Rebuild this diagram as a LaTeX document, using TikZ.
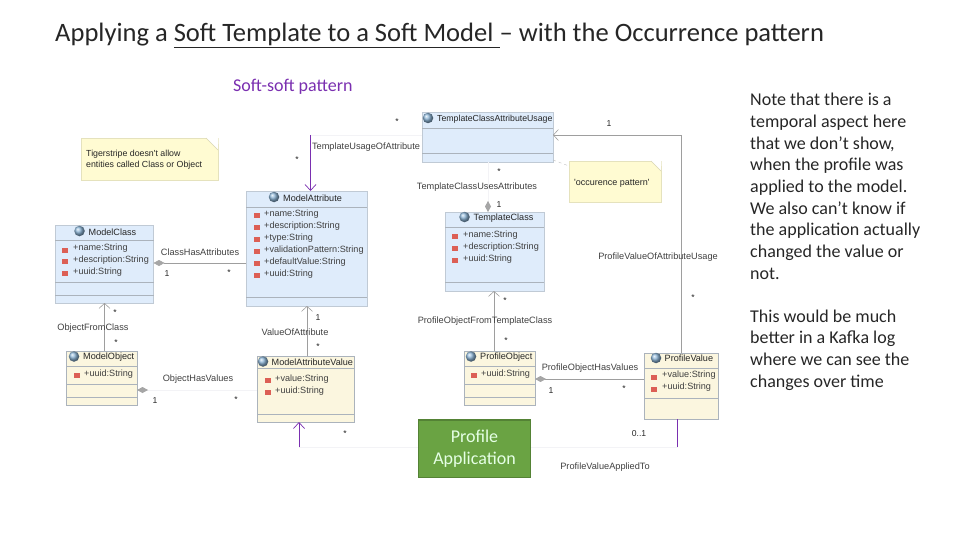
\documentclass[tikz,border=0pt]{standalone}
\usepackage{xcolor}
\usepackage{fontspec}
\setmainfont{Carlito}
\newfontfamily\umlfont{Liberation Sans}
\usetikzlibrary{arrows.meta}
\definecolor{bluebox}{HTML}{DFECFB}
\definecolor{yellowbox}{HTML}{FBF6DF}
\definecolor{notefill}{HTML}{FFFBD2}
\definecolor{boxline}{HTML}{ABB3BC}
\definecolor{faintline}{HTML}{F3F3F6}
\definecolor{softpurple}{HTML}{7A2FB0}
\definecolor{greenfill}{HTML}{6AA343}
\definecolor{greenline}{HTML}{548235}
\definecolor{ballblue}{HTML}{8DB6D8}
\definecolor{markred}{HTML}{DC5F55}
\tikzset{
  yellowcls/.style={rectangle, fill=yellowbox, draw=boxline, line width=.6pt, inner sep=0pt, outer sep=0pt, anchor=north west},
  bluecls/.style={yellowcls, fill=bluebox, draw=boxline!60!bluebox},
  notebox/.style={rectangle, fill=notefill, draw=notefill!90!black, line width=.5pt, inner sep=0pt, outer sep=0pt, anchor=north west},
  compart/.style={draw=boxline, line width=.6pt},
  clsname/.style={font=\umlfont\fontsize{9.1}{10}\selectfont, inner sep=0pt, anchor=west, text=black!85},
  attr/.style={font=\umlfont\fontsize{9.1}{10}\selectfont, inner sep=0pt, anchor=west, text=black!75},
  lbl/.style={font=\umlfont\fontsize{9.2}{10}\selectfont, inner sep=0pt, text=black!75},
  mult/.style={font=\umlfont\fontsize{8.6}{10}\selectfont, inner sep=0pt, text=black!85},
  attrmark/.style={rectangle, fill=markred, inner sep=0pt, minimum width=6pt, minimum height=5pt},
  clsball/.style={circle, ball color=ballblue, inner sep=0pt, minimum size=10.5pt},
  assoc/.style={draw=black!38, line width=.7pt},
  faint/.style={draw=faintline, line width=.7pt},
  openhead/.style={-{Straight Barb[length=5pt,width=11pt,line width=.6pt]}},
  purplehead/.style={-{Straight Barb[length=6pt,width=11pt,line width=.7pt]}, draw=softpurple, line width=1pt},
  diamondhead/.style={{Diamond[length=11pt,width=6pt,fill=black!35,color=black!35]}-}
}
\begin{document}
\begin{tikzpicture}[x=1pt, y=-1pt]
\useasboundingbox (0,0) rectangle (960,540);

% slide texts
\node(title)[anchor=west, inner sep=0pt, text=black!85, font=\fontsize{26.55}{30}\selectfont] at (55,35.5) {Applying a \underline{Soft Template to a Soft Model\ }-- with the Occurrence pattern};
\node(subtitle)[anchor=west, inner sep=0pt, text=softpurple, font=\fontsize{18}{20}\selectfont] at (233,86.5) {Soft-soft pattern};
\node(remark1)[anchor=north west, inner sep=0pt, align=left, text=black!85, font=\fontsize{18}{21.7}\selectfont] at (750,93) {Note that there is a\\temporal aspect here\\that we don't show,\\when the profile was\\applied to the model.\\We also can't know if\\the application actually\\changed the value or\\not.};
\node(remark2)[anchor=north west, inner sep=0pt, align=left, text=black!85, font=\fontsize{18}{21.7}\selectfont] at (750,309.5) {This would be much\\better in a Kafka log\\where we can see the\\changes over time};

% class boxes
\node(usage)[bluecls, minimum width=131pt, minimum height=50pt] at (422,112) {};
\node(mattr)[bluecls, minimum width=121pt, minimum height=115pt] at (246,191) {};
\node(mclass)[bluecls, minimum width=98.5pt, minimum height=78pt] at (55,225) {};
\node(tclass)[bluecls, minimum width=99pt, minimum height=79pt] at (445,212) {};
\node(mobject)[yellowcls, minimum width=71pt, minimum height=54pt] at (66,351) {};
\node(mvalue)[yellowcls, minimum width=97pt, minimum height=66pt] at (257,356) {};
\node(pobject)[yellowcls, minimum width=71pt, minimum height=54pt] at (464,351) {};
\node(pvalue)[yellowcls, minimum width=74pt, minimum height=66pt] at (644,353) {};

% compartments
\draw[compart] (usage.west |- 0,128) -- (usage.east |- 0,128);
\draw[compart] (usage.west |- 0,153) -- (usage.east |- 0,153);
\draw[compart] (mattr.west |- 0,207) -- (mattr.east |- 0,207);
\draw[compart] (mattr.west |- 0,297) -- (mattr.east |- 0,297);
\draw[compart] (mclass.west |- 0,240) -- (mclass.east |- 0,240);
\draw[compart] (mclass.west |- 0,282) -- (mclass.east |- 0,282);
\draw[compart] (mclass.west |- 0,295) -- (mclass.east |- 0,295);
\draw[compart] (tclass.west |- 0,227) -- (tclass.east |- 0,227);
\draw[compart] (tclass.west |- 0,282) -- (tclass.east |- 0,282);
\draw[compart] (mobject.west |- 0,366) -- (mobject.east |- 0,366);
\draw[compart] (mobject.west |- 0,384) -- (mobject.east |- 0,384);
\draw[compart] (mobject.west |- 0,397) -- (mobject.east |- 0,397);
\draw[compart] (mvalue.west |- 0,368) -- (mvalue.east |- 0,368);
\draw[compart] (mvalue.west |- 0,414) -- (mvalue.east |- 0,414);
\draw[compart] (pobject.west |- 0,366) -- (pobject.east |- 0,366);
\draw[compart] (pobject.west |- 0,384) -- (pobject.east |- 0,384);
\draw[compart] (pobject.west |- 0,397) -- (pobject.east |- 0,397);
\draw[compart] (pvalue.west |- 0,368) -- (pvalue.east |- 0,368);
\draw[compart] (pvalue.west |- 0,398) -- (pvalue.east |- 0,398);

% class names
\node(b1)[clsball] at (428,118) {};
\node(n1)[clsname, font=\umlfont\fontsize{8.75}{10}\selectfont] at (437,119) {TemplateClassAttributeUsage};
\node(b2)[clsball] at (274,197) {};
\node(n2)[clsname] at (283,198) {ModelAttribute};
\node(b3)[clsball] at (79.5,231) {};
\node(n3)[clsname] at (88.5,232) {ModelClass};
\node(b4)[clsball] at (464.5,217) {};
\node(n4)[clsname] at (473.5,218) {TemplateClass};
\node(b5)[clsball] at (74,356.5) {};
\node(n5)[clsname] at (83,357.5) {ModelObject};
\node(b6)[clsball] at (263,361.5) {};
\node(n6)[clsname] at (271.5,362.5) {ModelAttributeValue};
\node(b7)[clsball] at (471,356.5) {};
\node(n7)[clsname] at (480,357.5) {ProfileObject};
\node(b8)[clsball] at (656,358) {};
\node(n8)[clsname] at (664.5,358.5) {ProfileValue};

% attributes
\node(r1)[attrmark] at (257,215) {};
\node(a1)[attr] at (264,214) {+name:String};
\node(r2)[attrmark] at (257,227) {};
\node(a2)[attr] at (264,226) {+description:String};
\node(r3)[attrmark] at (257,239) {};
\node(a3)[attr] at (264,238) {+type:String};
\node(r4)[attrmark] at (257,251) {};
\node(a4)[attr] at (264,250) {+validationPattern:String};
\node(r5)[attrmark] at (257,263) {};
\node(a5)[attr] at (264,262) {+defaultValue:String};
\node(r6)[attrmark] at (257,275) {};
\node(a6)[attr] at (264,274) {+uuid:String};
\node(r7)[attrmark] at (65,250) {};
\node(a7)[attr] at (73,248) {+name:String};
\node(r8)[attrmark] at (65,261) {};
\node(a8)[attr] at (73,260) {+description:String};
\node(r9)[attrmark] at (65,273) {};
\node(a9)[attr] at (73,272) {+uuid:String};
\node(r10)[attrmark] at (455,236) {};
\node(a10)[attr] at (463,235) {+name:String};
\node(r11)[attrmark] at (455,248) {};
\node(a11)[attr] at (463,247) {+description:String};
\node(r12)[attrmark] at (455,260) {};
\node(a12)[attr] at (463,259) {+uuid:String};
\node(r13)[attrmark] at (77,375) {};
\node(a13)[attr] at (84,374) {+uuid:String};
\node(r14)[attrmark] at (268,380) {};
\node(a14)[attr] at (275,379) {+value:String};
\node(r15)[attrmark] at (268,392) {};
\node(a15)[attr] at (275,391) {+uuid:String};
\node(r16)[attrmark] at (474,375) {};
\node(a16)[attr] at (481,374) {+uuid:String};
\node(r17)[attrmark] at (654,377) {};
\node(a17)[attr] at (662,375.5) {+value:String};
\node(r18)[attrmark] at (654,389) {};
\node(a18)[attr] at (662,387.5) {+uuid:String};

% notes
\node(tignote)[notebox, minimum width=137pt, minimum height=42pt] at (81,138) {};
\fill[white] ([xshift=-12pt]tignote.north east) -- ([xshift=.5pt,yshift=.5pt]tignote.north east) -- ([yshift=-12pt]tignote.north east) -- cycle;
\draw[draw=notefill!85!black, line width=.5pt] ([xshift=-12pt]tignote.north east) -- ([yshift=-12pt]tignote.north east);
\node(tigtext)[lbl, anchor=north west, align=left, font=\umlfont\fontsize{8.8}{11.6}\selectfont, text=black!85] at (86,149.5) {Tigerstripe doesn't allow\\entities called Class or Object};
\node(occnote)[notebox, minimum width=92pt, minimum height=41pt] at (569,161) {};
\fill[white] ([xshift=-10pt]occnote.north east) -- ([xshift=.5pt,yshift=.5pt]occnote.north east) -- ([yshift=-10pt]occnote.north east) -- cycle;
\draw[draw=notefill!85!black, line width=.5pt] ([xshift=-10pt]occnote.north east) -- ([yshift=-10pt]occnote.north east);
\node(occtext)[lbl, anchor=west, text=black!85, font=\umlfont\fontsize{9}{10}\selectfont] at (574,183) {'occurence pattern'};

% connectors
\coordinate(xtop) at (310.5,135);
\coordinate(xmo) at (104.5,0);
\coordinate(xmv) at (307,0);
\coordinate(xpo) at (494,0);
\coordinate(xpv) at (681,0);
\coordinate(xtc) at (488,0);
\coordinate(yapp) at (0,447);
\coordinate(xapp1) at (299,0);
\coordinate(xapp2) at (677.5,0);

\draw[faint] (usage.west |- xtop) -- (xtop);
\draw[purplehead] (xtop) -- (xtop |- mattr.north);
\draw[faint, diamondhead] (xtc |- tclass.north) -- (xtc |- usage.south);
\draw[assoc, diamondhead] (mclass.east |- 0,263) -- (mattr.west |- 0,263);
\draw[assoc, openhead] (xmo |- mobject.north) -- (xmo |- mclass.south);
\draw[assoc, openhead] (xmv |- mvalue.north) -- (xmv |- mattr.south);
\draw[assoc, openhead] (xpo |- pobject.north) -- (xpo |- tclass.south);
\draw[faint, diamondhead] (mobject.east |- 0,390) -- (mvalue.west |- 0,390);
\draw[assoc, diamondhead] (pobject.east |- 0,379) -- (pvalue.west |- 0,379);
\draw[assoc, openhead] (xpv |- pvalue.north) |- (usage.east |- xtop);
\draw[faint] (xapp1 |- yapp) -- (xapp2 |- yapp);
\draw[purplehead] (xapp1 |- yapp) -- (xapp1 |- mvalue.south);
\draw[draw=softpurple, line width=1pt] (xapp2 |- pvalue.south) -- (xapp2 |- yapp);
\draw[draw=black!25, dashed, line width=.4pt] (usage.east |- 0,160) -- (occnote.west |- 0,166);

% green box
\node(papp)[rectangle, fill=greenfill, draw=greenline, line width=1.6pt, inner sep=0pt, outer sep=0pt, anchor=north west, minimum width=112pt, minimum height=57.5pt, align=center, text=white!90!green, font=\fontsize{18}{21.5}\selectfont] at (418.5,420) {Profile\\Application};

% connector labels
\node(l1)[lbl] at (366,147) {TemplateUsageOfAttribute};
\node(l2)[lbl] at (477,187) {TemplateClassUsesAttributes};
\node(l3)[lbl] at (200,252) {ClassHasAttributes};
\node(l4)[lbl] at (658,257) {ProfileValueOfAttributeUsage};
\node(l5)[lbl] at (93,328) {ObjectFromClass};
\node(l6)[lbl] at (295,332) {ValueOfAttribute};
\node(l7)[lbl] at (485,321) {ProfileObjectFromTemplateClass};
\node(l8)[lbl] at (198,379) {ObjectHasValues};
\node(l9)[lbl] at (590,368) {ProfileObjectHasValues};
\node(l10)[lbl] at (605,467) {ProfileValueAppliedTo};

% multiplicities
\node(m1)[mult] at (397,122) {*};
\node(m2)[mult] at (297,160) {*};
\node(m3)[mult] at (609,124) {1};
\node(m4)[mult] at (499,172) {*};
\node(m5)[mult] at (499,205) {1};
\node(m6)[mult] at (167,274) {1};
\node(m7)[mult] at (229,273) {*};
\node(m8)[mult] at (693,298) {*};
\node(m9)[mult] at (115,313) {*};
\node(m10)[mult] at (116,343) {*};
\node(m11)[mult] at (318,318) {1};
\node(m12)[mult] at (318,347) {*};
\node(m13)[mult] at (505,301) {*};
\node(m14)[mult] at (506,341) {*};
\node(m15)[mult] at (155,401) {1};
\node(m16)[mult] at (236,400) {*};
\node(m17)[mult] at (551,391) {1};
\node(m18)[mult] at (624,389) {*};
\node(m19)[mult] at (345,434) {*};
\node(m20)[mult] at (639,434) {0..1};
\end{tikzpicture}
\end{document}
